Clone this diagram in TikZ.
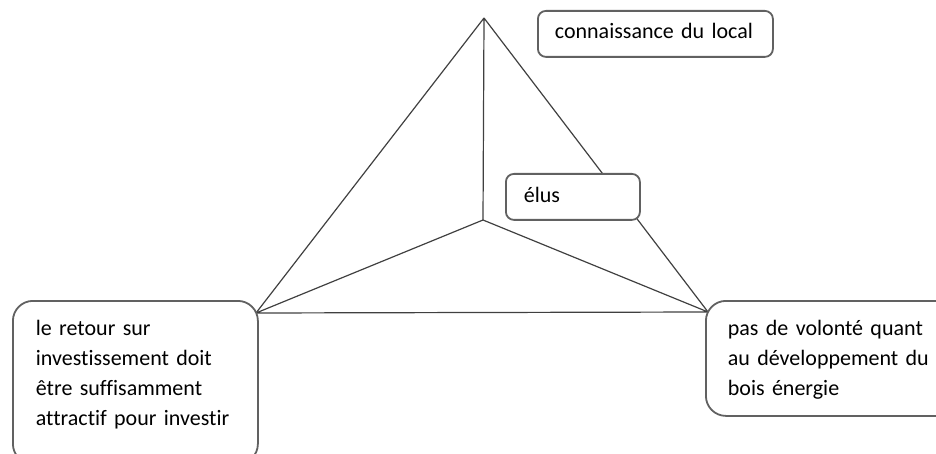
\documentclass[tikz,border=0pt]{standalone}
\usepackage{fontspec}
\setmainfont{Carlito}[Ligatures=NoCommon, WordSpace=0.75]
\usetikzlibrary{backgrounds}
\begin{document}
\begin{tikzpicture}[x=0.5pt, y=-0.5pt, line join=round, line cap=round,
		font=\fontsize{11pt}{15pt}\selectfont,
		bigbox/.style={draw=black!62, line width=0.9pt, fill=white, rounded corners=10pt, anchor=north west, align=left, inner ysep=0pt},
		smallbox/.style={draw=black!62, line width=0.9pt, fill=white, rounded corners=4pt, anchor=north west, align=left, inner ysep=0pt},
		edge/.style={draw=black!75, line width=0.6pt}]
	\useasboundingbox (0,0) rectangle (936,454);
	% sommets de la pyramide
	\coordinate (top) at (484,18);
	\coordinate (mid) at (483,220);
	\coordinate (lft) at (256,313);
	\coordinate (rgt) at (708,312);
	% boites
	\node[smallbox, inner xsep=8.5pt, text width=100.5pt, text height=14pt, text depth=9pt] (local) at (537,10) {connaissance du local};
	\node[smallbox, inner xsep=9pt, text width=49pt, text height=14.5pt, text depth=8.5pt] (elus) at (505,173) {élus};
	\node[bigbox, inner xsep=11.5pt, text width=99.5pt, text height=17.5pt, text depth=64pt] (retour) at (12,300)
		{le retour sur\\investissement doit\\être suffisamment\\attractif pour investir};
	\node[bigbox, inner xsep=11pt, text width=110pt, text height=17.5pt, text depth=40pt] (volonte) at (705,300)
		{pas de volonté quant\\au développement du\\bois énergie};
	\begin{scope}[on background layer]
		\draw[edge] (top)--(lft) (top)--(rgt) (top)--(mid);
		\draw[edge] (mid)--(lft) (mid)--(rgt) (lft)--(rgt);
	\end{scope}
\end{tikzpicture}
\end{document}
